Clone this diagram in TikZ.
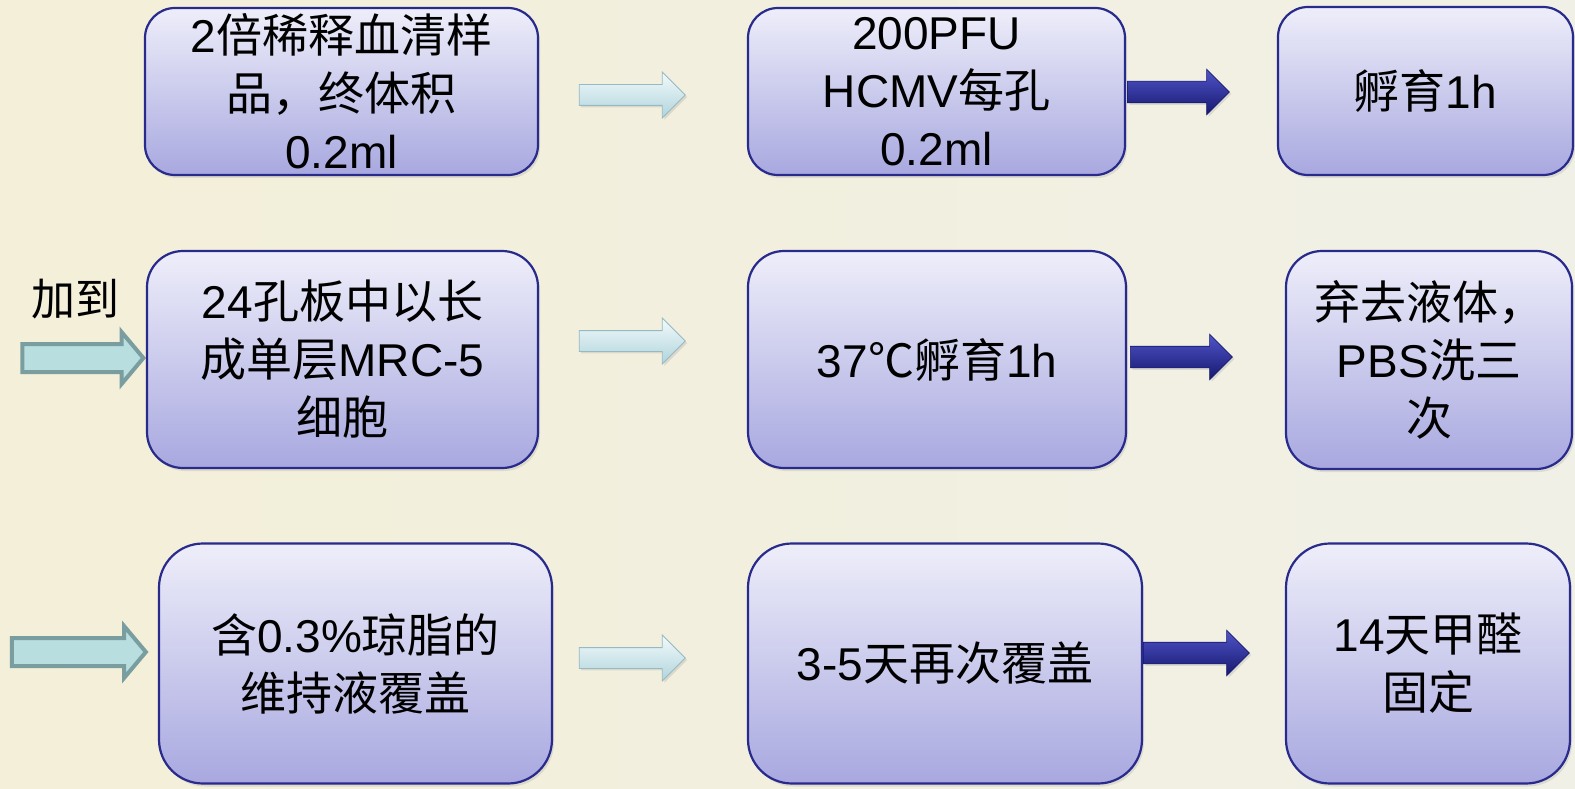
\documentclass[tikz,border=0pt]{standalone}
\usepackage{fontspec}
\setmainfont{Liberation Sans}
\newfontfamily\zh{Noto Sans CJK SC}
\usetikzlibrary{shapes.arrows,shadows}
\definecolor{bgleft}{RGB}{243,239,216}
\definecolor{bgright}{RGB}{240,240,230}
\definecolor{boxtop}{RGB}{238,238,250}
\definecolor{boxbot}{RGB}{168,168,224}
\definecolor{boxline}{RGB}{40,42,140}
\definecolor{ltop}{RGB}{242,250,251}
\definecolor{lbot}{RGB}{176,212,220}
\definecolor{lline}{RGB}{150,186,196}
\definecolor{dtop}{RGB}{80,84,200}
\definecolor{dmid}{RGB}{45,48,165}
\definecolor{dbot}{RGB}{22,24,110}
\definecolor{tfill}{RGB}{184,222,224}
\definecolor{tline}{RGB}{122,158,160}
\begin{document}
\begin{tikzpicture}[x=1pt,y=-1pt,
  box/.style={draw=boxline, line width=2.2pt, top color=boxtop, bottom color=boxbot,
    align=center, inner sep=0pt, font=\fontsize{46}{58}\selectfont,
    drop shadow={opacity=0.18, shadow xshift=2pt, shadow yshift=-3pt}},
  lightarrow/.style={single arrow, draw=lline, line width=0.8pt, top color=ltop, bottom color=lbot,
    minimum height=106pt, inner xsep=0pt, inner ysep=10pt, single arrow head extend=12.5pt,
    drop shadow={opacity=0.2, shadow xshift=2pt, shadow yshift=-2pt}},
  darkarrow/.style={single arrow, draw=dbot, line width=0.6pt, top color=dtop, middle color=dmid, bottom color=dbot,
    minimum height=102pt, inner xsep=0pt, inner ysep=10.5pt, single arrow head extend=12pt,
    drop shadow={opacity=0.2, shadow xshift=2pt, shadow yshift=-2pt}},
  tealarrow/.style={single arrow, draw=tline, line width=4pt, fill=tfill,
    inner xsep=0pt, inner ysep=12pt, single arrow head extend=12pt, single arrow tip angle=100},
]
\useasboundingbox (0,0) rectangle (1575,789);
\shade[left color=bgleft, right color=bgright] (0,0) rectangle (1575,789);

% row 1
\node[box, rounded corners=30pt, minimum width=393pt, minimum height=167pt] (A) at (341.5,91.5)
  {2{\zh 倍稀释血清样}\\{\zh 品，终体积}\\0.2ml};
\node[box, rounded corners=30pt, minimum width=377pt, minimum height=167pt] (B) at (936.5,91.5)
  {200PFU\\HCMV{\zh 每孔}\\0.2ml};
\node[box, rounded corners=30pt, minimum width=295pt, minimum height=168pt] (C) at (1425.5,91)
  {{\zh 孵育}1h};

% row 2
\node[box, rounded corners=36pt, minimum width=391pt, minimum height=217pt] (D) at (342.5,359.5)
  {24{\zh 孔板中以长}\\{\zh 成单层}MRC-5\\{\zh 细胞}};
\node[box, rounded corners=36pt, minimum width=378pt, minimum height=217pt] (E) at (937,359.5)
  {37{\zh ℃孵育}1h};
\node[box, rounded corners=36pt, minimum width=286pt, minimum height=218pt] (F) at (1429,360)
  {{\zh 弃去液体，}\\PBS{\zh 洗三}\\{\zh 次}};

% row 3
\node[box, rounded corners=44pt, minimum width=393pt, minimum height=240pt] (G) at (355.5,663.5)
  {{\zh 含}0.3\%{\zh 琼脂的}\\{\zh 维持液覆盖}};
\node[box, rounded corners=44pt, minimum width=394pt, minimum height=240pt] (H) at (945,663.5)
  {3-5{\zh 天再次覆盖}};
\node[box, rounded corners=44pt, minimum width=284pt, minimum height=240pt] (I) at (1428,663.5)
  {14{\zh 天甲醛}\\{\zh 固定}};

% arrows
\node[lightarrow] (la1) at (627,95) {};
\node[lightarrow] (la2) at (627,341) {};
\node[lightarrow] (la3) at (627,658) {};
\node[darkarrow] (da1) at (1173,92) {};
\node[darkarrow] (da2) at (1176,357) {};
\node[darkarrow, minimum height=106pt] (da3) at (1191,653) {};
\node[tealarrow, minimum height=121pt] (ta1) at (77,358) {};
\node[tealarrow, minimum height=134pt] (ta2) at (73,652) {};

\node[font=\zh\fontsize{44}{50}\selectfont, inner sep=0pt] (lbl) at (75,299) {加到};
\end{tikzpicture}
\end{document}
